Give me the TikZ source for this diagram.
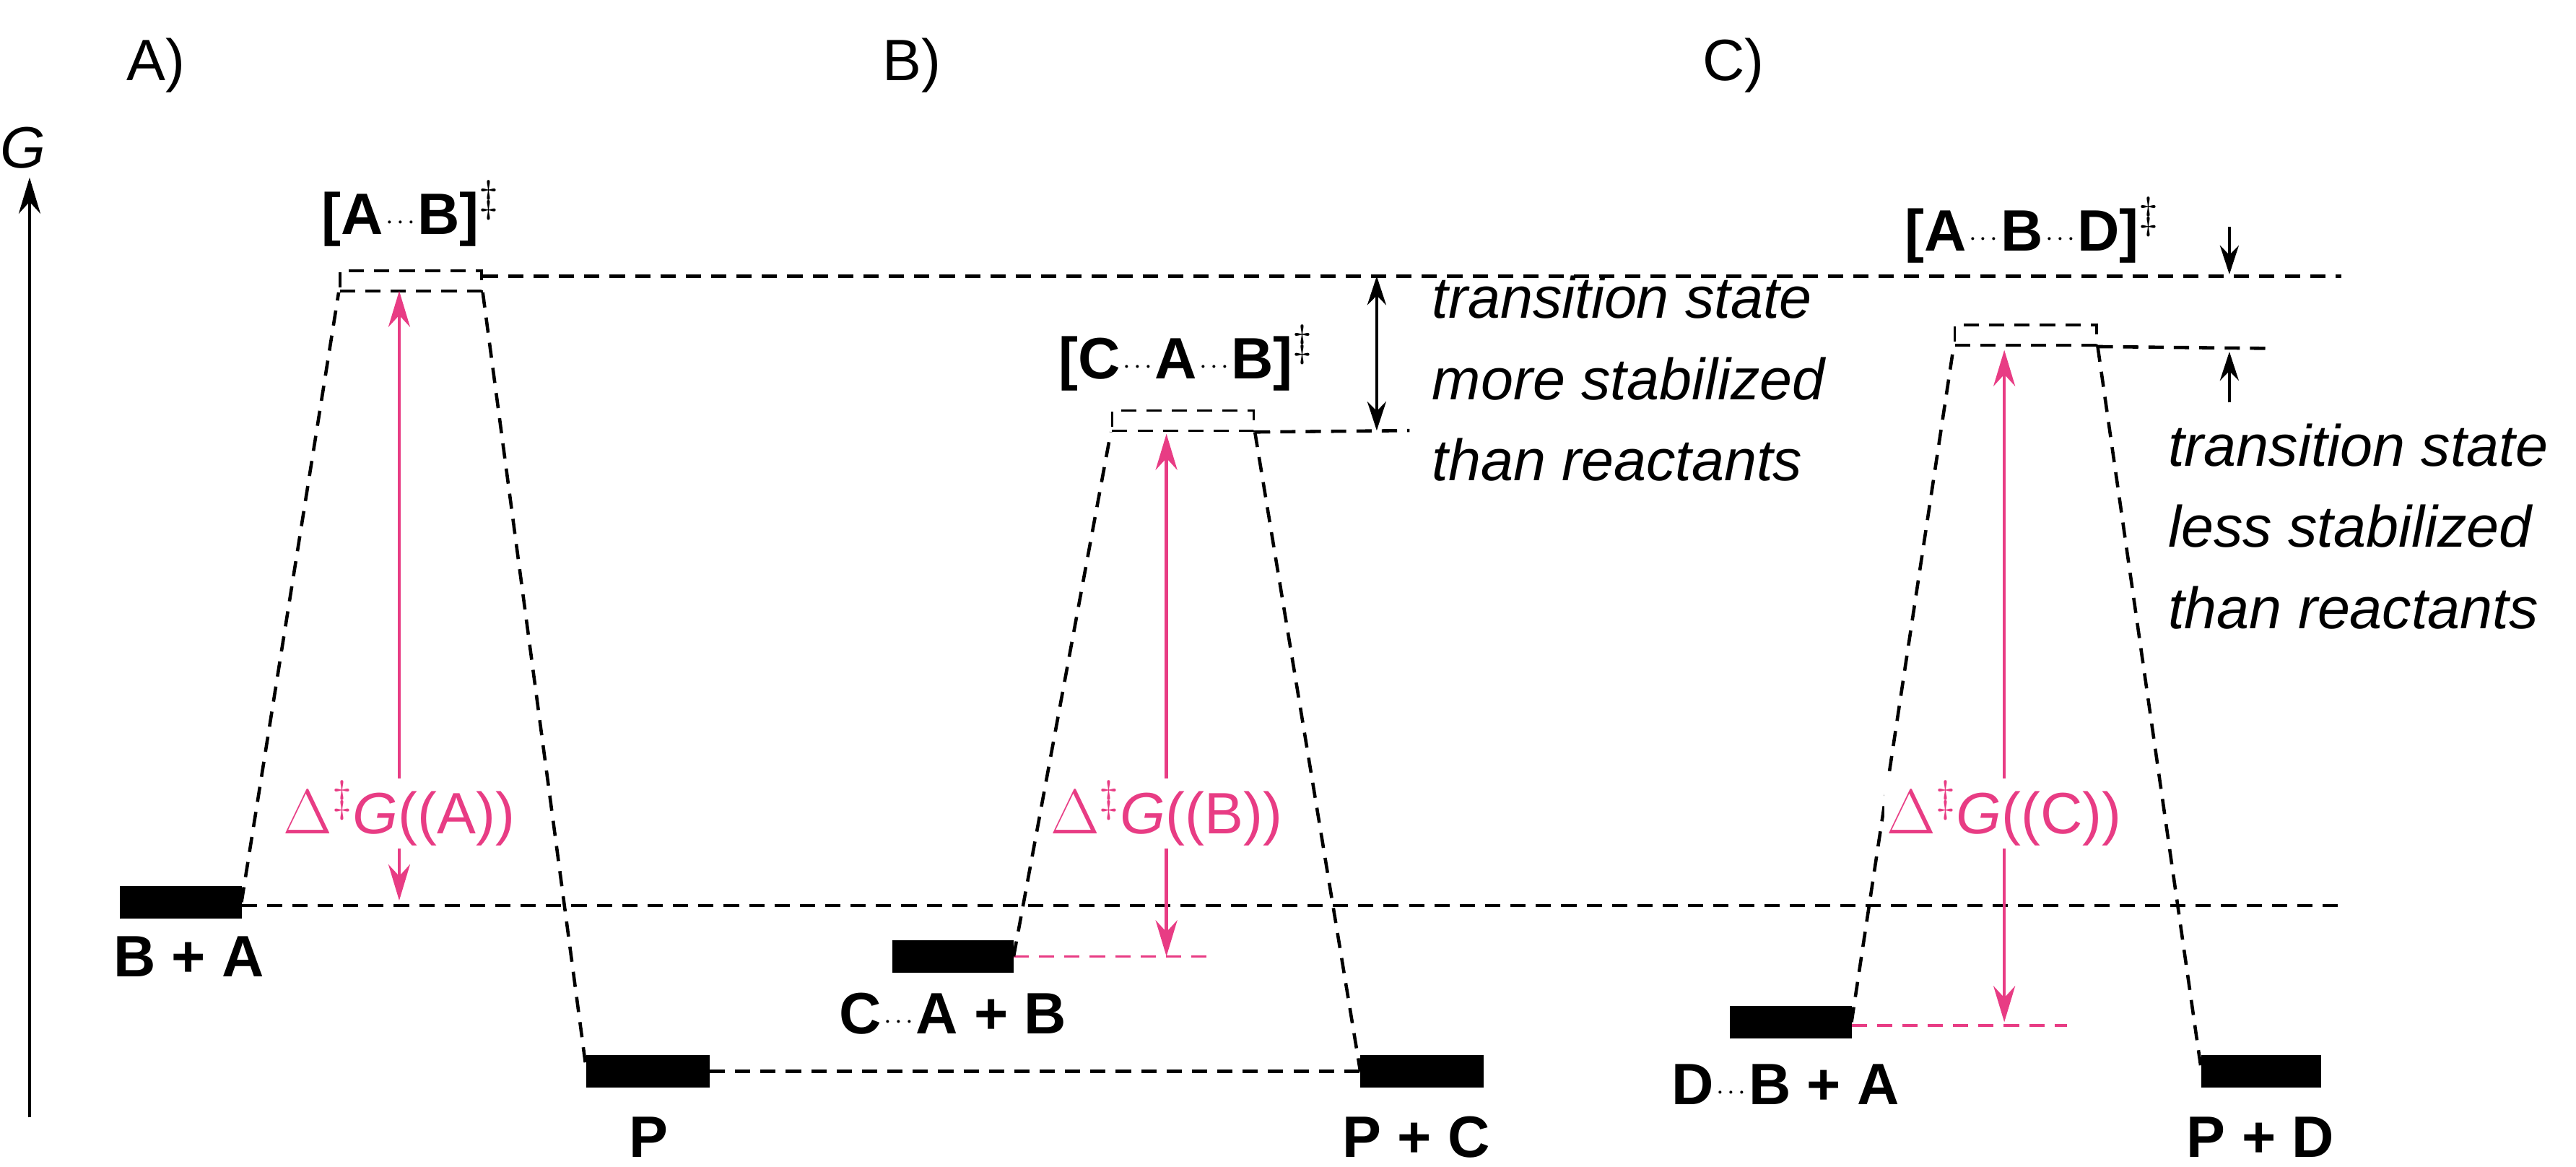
\documentclass[tikz,border=0pt]{standalone}
\usepackage{fontspec}
\setmainfont{Liberation Sans}
\usetikzlibrary{arrows.meta}
\definecolor{dgpink}{RGB}{232,60,132}
\newcommand{\ddd}{\kern1pt{\fontsize{11}{11}\selectfont\mdseries\raisebox{2pt}{$\cdot\kern-1.2pt\cdot\kern-1.2pt\cdot$}}\kern1pt}
\tikzset{
  level/.style={line width=4.5mm},
  guide/.style={dashed, line width=1.3pt, dash pattern=on 6pt off 4pt},
  tsbox/.style={draw, guide, line width=1pt, minimum width=19.6mm, minimum height=2.8mm, inner sep=0pt},
  barrier/.style={dgpink, line width=1.3pt, {Stealth[length=5mm,width=3mm]}-{Stealth[length=5mm,width=3mm]}},
  txt/.style={font=\fontsize{23}{28}\selectfont, inner sep=1pt},
  bold/.style={txt, font=\fontsize{23}{28}\selectfont\bfseries},
}
\begin{document}
\begin{tikzpicture}[x=0.02275cm, y=-0.02275cm, >=Stealth]
  \useasboundingbox (0,0) rectangle (1568,710);
  % axis
  \coordinate (g0) at (18,680);
  \coordinate (g1) at (18,108);
  \draw[line width=1.3pt, -{Stealth[length=5mm,width=3mm]}] (g0) -- (g1);
  \node[txt, font=\fontsize{23}{28}\selectfont\itshape] (G) at (14,90) {G};
  % panel labels
  \node[txt] (labA) at (95,40) {A)};
  \node[txt] (labB) at (555,40) {B)};
  \node[txt] (labC) at (1055,40) {C)};

  % reference lines
  \coordinate (r0) at (147,551);
  \coordinate (r1) at (1425,551);
  \coordinate (t1) at (1425,168);
  \draw[guide] (r0) -- (r1);

  % A)
  \coordinate (a0) at (73,549);  \coordinate (a1) at (147,549);
  \draw[level] (a0) -- (a1);
  \node[bold] (reA) at (115,582) {B + A};
  \node[tsbox] (tsA) at (250,171) {};
  \node[bold] (tsAl) at (250,130) {[A\ddd B]$^\ddagger$};
  \coordinate (pA0) at (357,652); \coordinate (pA1) at (432,652);
  \draw[level] (pA0) -- (pA1);
  \node[bold] (prA) at (395,692) {P};
  \draw[guide] (a1) -- (tsA.south west);
  \draw[guide] (tsA.south east) -- (pA0);
  \draw[guide] (tsA.east |- 0,168) -- (t1);
  \coordinate (dA0) at (243,548); \coordinate (dA1) at (243,177);
  \draw[barrier] (dA0) -- (dA1);
  \node[txt, dgpink, fill=white] (dAl) at (243,495) {$\Delta^{\ddagger}$\textit{G}((A))};

  % B)
  \coordinate (b0) at (543,582); \coordinate (b1) at (617,582);
  \coordinate (b2) at (735,582);
  \draw[level] (b0) -- (b1);
  \draw[guide, dgpink, line width=1pt] (b1) -- (b2);
  \node[bold] (reB) at (580,617) {C\ddd A + B};
  \node[tsbox] (tsB) at (720,256) {};
  \node[bold] (tsBl) at (722,218) {[C\ddd A\ddd B]$^\ddagger$};
  \coordinate (pB0) at (828,652); \coordinate (pB1) at (903,652);
  \draw[level] (pB0) -- (pB1);
  \node[bold] (prB) at (862,692) {P + C};
  \draw[guide] (b1) -- (tsB.south west);
  \draw[guide] (tsB.south east) -- (pB0);
  \draw[guide] (pA1) -- (pB0);
  \coordinate (eB) at (858,262);
  \draw[guide] (tsB.south east) -- (eB);
  \coordinate (dB0) at (710,582); \coordinate (dB1) at (710,264);
  \draw[barrier] (dB0) -- (dB1);
  \node[txt, dgpink, fill=white] (dBl) at (710,495) {$\Delta^{\ddagger}$\textit{G}((B))};
  \coordinate (sB0) at (838,168); \coordinate (sB1) at (838,262);
  \draw[line width=1.3pt, {Stealth[length=4mm,width=2.6mm]}-{Stealth[length=4mm,width=2.6mm]}] (sB0) -- (sB1);
  \node[txt, font=\fontsize{23}{28}\selectfont\itshape, align=left, anchor=north west] (txB) at (870,166)
    {transition state\\[4pt]more stabilized\\[4pt]than reactants};

  % C)
  \coordinate (c0) at (1053,622); \coordinate (c1) at (1127,622);
  \coordinate (c2) at (1258,624);
  \draw[level] (c0) -- (c1);
  \draw[guide, dgpink, line width=1pt] (c1 |- c2) -- (c2);
  \node[bold] (reC) at (1087,660) {D\ddd B + A};
  \node[tsbox] (tsC) at (1233,204) {};
  \node[bold] (tsCl) at (1237,140) {[A\ddd B\ddd D]$^\ddagger$};
  \coordinate (pC0) at (1340,652); \coordinate (pC1) at (1413,652);
  \draw[level] (pC0) -- (pC1);
  \node[bold] (prC) at (1376,692) {P + D};
  \draw[guide] (c1) -- (tsC.south west);
  \draw[guide] (tsC.south east) -- (pC0);
  \coordinate (eC) at (1380,212);
  \draw[guide] (tsC.south east) -- (eC);
  \coordinate (dC0) at (1220,622); \coordinate (dC1) at (1220,213);
  \draw[barrier] (dC0) -- (dC1);
  \node[txt, dgpink, fill=white] (dCl) at (1220,495) {$\Delta^{\ddagger}$\textit{G}((C))};
  \coordinate (sC0) at (1357,138); \coordinate (sC1) at (1357,167);
  \coordinate (sC2) at (1357,245); \coordinate (sC3) at (1357,214);
  \draw[line width=1.3pt, -{Stealth[length=4mm,width=2.6mm]}] (sC0) -- (sC1);
  \draw[line width=1.3pt, -{Stealth[length=4mm,width=2.6mm]}] (sC2) -- (sC3);
  \node[txt, font=\fontsize{23}{28}\selectfont\itshape, align=left, anchor=north west] (txC) at (1318,256)
    {transition state\\[4pt]less stabilized\\[4pt]than reactants};
\end{tikzpicture}
\end{document}
